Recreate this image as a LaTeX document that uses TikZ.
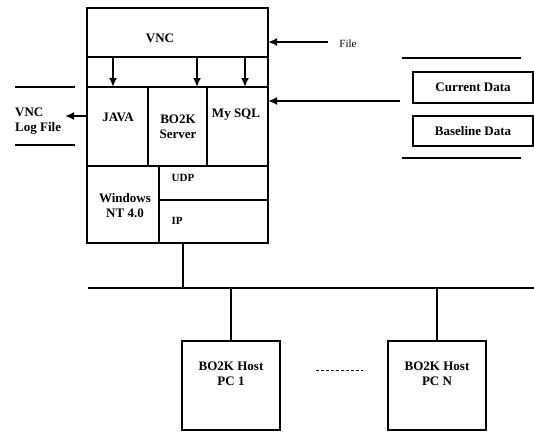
\documentclass[tikz,border=0pt]{standalone}
\usepackage{fontspec}
\setmainfont{Liberation Serif}
\usetikzlibrary{arrows.meta}
\begin{document}
\begin{tikzpicture}[x=1pt,y=-1pt,
  cell/.style={draw,line width=1.8pt,minimum width=#1,inner sep=0pt,outer sep=0pt,anchor=north west},
  txt/.style={font=\fontsize{13}{15}\selectfont\bfseries,align=center,inner sep=0pt},
  stxt/.style={font=\fontsize{11}{13}\selectfont\bfseries,align=center,inner sep=0pt},
  wire/.style={line width=1.8pt},
  arr/.style={line width=1.8pt,-{Latex[length=9pt,width=8pt]}}]
\useasboundingbox (0,0) rectangle (534,432);
% main box cells
\node[cell=181pt,minimum height=49pt] (vnc) at (87,8) {};
\node[cell=181pt,minimum height=30pt] (band) at (87,57) {};
\node[cell=61pt,minimum height=79pt] (java) at (87,87) {};
\node[cell=59pt,minimum height=79pt] (bo2k) at (148,87) {};
\node[cell=61pt,minimum height=79pt] (sql) at (207,87) {};
\node[cell=72pt,minimum height=77pt] (win) at (87,166) {};
\node[cell=109pt,minimum height=34pt] (udp) at (159,166) {};
\node[cell=109pt,minimum height=43pt] (ip) at (159,200) {};
% texts
\node[txt] (tvnc) at (160,38) {VNC};
\node[txt] (tjava) at (118,117) {JAVA};
\node[txt] (tbo2k) at (178,127) {BO2K\\Server};
\node[txt] (tsql) at (236,115) {My SQL};
\node[txt] (twin) at (125,206) {Windows\\NT 4.0};
\node[stxt] (tudp) at (183,178) {UDP};
\node[stxt] (tip) at (177,221) {IP};
% internal arrows
\draw[arr] (band.north west) ++(26,0) coordinate (a1s) -- (a1s |- java.north) coordinate (a1e);
\draw[arr] (band.north west) ++(110,0) coordinate (a2s) -- (a2s |- java.north);
\draw[arr] (band.north west) ++(158,0) coordinate (a3s) -- (a3s |- java.north);
% left: log file
\node[txt,align=left,anchor=west] (log) at (15,121) {VNC\\Log File};
\coordinate (logtip) at (65,116);
\draw[arr] (java.west |- logtip) -- (logtip);
\coordinate (l1a) at (15,87); \coordinate (l1b) at (75,87);
\coordinate (l2a) at (15,145); \coordinate (l2b) at (75,145);
\draw[wire] (l1a) -- (l1b);
\draw[wire] (l2a) -- (l2b);
% right: file
\node[font=\fontsize{11}{13}\selectfont,inner sep=0pt] (file) at (348,44) {File};
\coordinate (fs) at (328,42);
\draw[arr] (fs) -- (fs -| vnc.east);
% data boxes
\node[cell=120pt,minimum height=31pt] (cur) at (413,72) {};
\node[txt] at (cur.center) {Current Data};
\node[cell=120pt,minimum height=30pt] (base) at (413,116) {};
\node[txt] at (base.center) {Baseline Data};
\coordinate (ds) at (400,101);
\draw[arr] (ds) -- (ds -| sql.east);
\coordinate (d1a) at (402,58); \coordinate (d1b) at (521,58);
\coordinate (d2a) at (402,158); \coordinate (d2b) at (521,158);
\draw[wire] (d1a) -- (d1b);
\draw[wire] (d2a) -- (d2b);
% bus
\coordinate (busl) at (88,288); \coordinate (busr) at (534,288);
\draw[wire] (busl) -- (busr);
\coordinate (bx) at (183,243);
\draw[wire] (bx) -- (bx |- busl);
% PCs
\node[cell=98pt,minimum height=89pt] (pc1) at (182,341) {};
\node[txt] at (231,374) {BO2K Host\\PC 1};
\node[cell=98pt,minimum height=89pt] (pcn) at (388,341) {};
\node[txt] at (437,374) {BO2K Host\\PC N};
\draw[wire] (pc1.north) -- (pc1.north |- busl);
\draw[wire] (pcn.north) -- (pcn.north |- busl);
\coordinate (dt1) at (316,370); \coordinate (dt2) at (363,370);
\draw[line width=1pt,dash pattern=on 3pt off 2pt] (dt1) -- (dt2);
\end{tikzpicture}
\end{document}
